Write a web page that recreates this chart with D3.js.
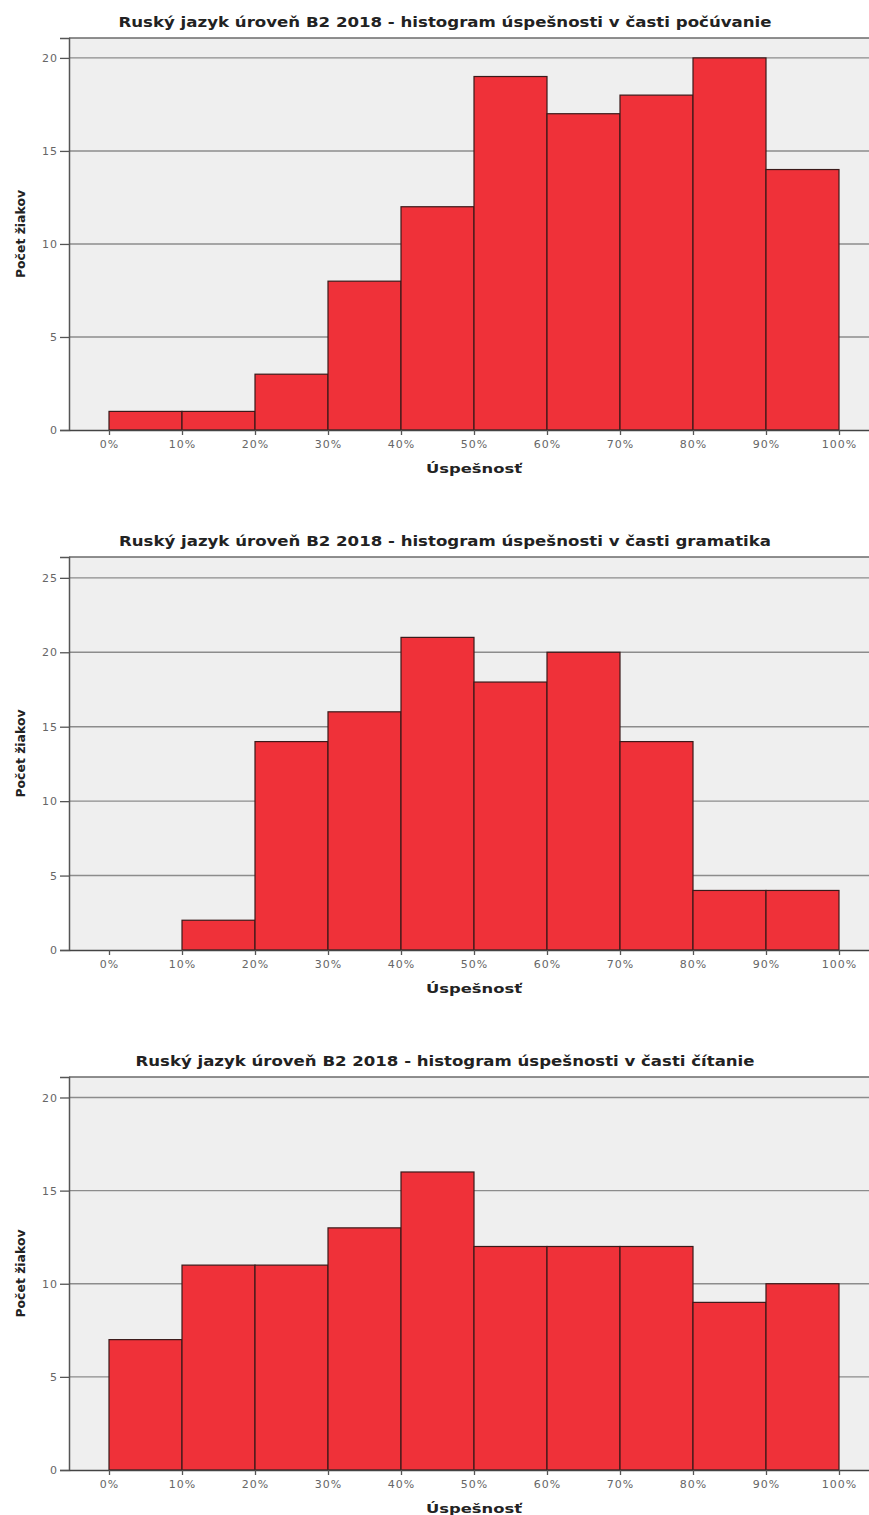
<!DOCTYPE html>
<html><head><meta charset="utf-8">
<script src="https://cdn.jsdelivr.net/npm/d3@7/dist/d3.min.js"></script>
<style>body{margin:0;background:#fff}svg{display:block}</style>
</head><body>
<svg id="c" width="869" height="1515"></svg>
<script>
// ---- data ----
const binStarts = [0, 10, 20, 30, 40, 50, 60, 70, 80, 90];
const binWidth = 10;
const xTickValues = [0, 10, 20, 30, 40, 50, 60, 70, 80, 90, 100];
const xTickLabels = ["0%", "10%", "20%", "30%", "40%", "50%", "60%", "70%", "80%", "90%", "100%"];
const countsPocuvanie = [1, 1, 3, 8, 12, 19, 17, 18, 20, 14];
const countsGramatika = [0, 2, 14, 16, 21, 18, 20, 14, 4, 4];
const countsCitanie = [7, 11, 11, 13, 16, 12, 12, 12, 9, 10];
const yTicksPocuvanie = [0, 5, 10, 15, 20];
const yTicksGramatika = [0, 5, 10, 15, 20, 25];
const yTicksCitanie = [0, 5, 10, 15, 20];
const yMaxes = [21.07, 26.4, 21.1];
const titles = [
  "Ruský jazyk úroveň B2 2018 - histogram úspešnosti v časti počúvanie",
  "Ruský jazyk úroveň B2 2018 - histogram úspešnosti v časti gramatika",
  "Ruský jazyk úroveň B2 2018 - histogram úspešnosti v časti čítanie"
];
const yLabel = "Počet žiakov";
const xLabel = "Úspešnosť";

// ---- layout ----
const panels = [
  {top: 38, bottom: 430, counts: countsPocuvanie, yTicks: yTicksPocuvanie, yMax: yMaxes[0], title: titles[0], titleW: 653},
  {top: 557, bottom: 950, counts: countsGramatika, yTicks: yTicksGramatika, yMax: yMaxes[1], title: titles[1], titleW: 652},
  {top: 1077, bottom: 1470, counts: countsCitanie, yTicks: yTicksCitanie, yMax: yMaxes[2], title: titles[2], titleW: 619}
];
const plotLeft = 69, plotRight = 869;
const x = d3.scaleLinear().domain([-5.48, 104.11]).range([plotLeft, plotRight]);

const svg = d3.select("#c");
const FONT = "'DejaVu Sans', 'Liberation Sans', Arial, sans-serif";

panels.forEach(p => {
  const y = d3.scaleLinear().domain([0, p.yMax]).range([p.bottom, p.top]);
  const g = svg.append("g");

  // background
  g.append("rect").attr("x", plotLeft).attr("y", p.top)
    .attr("width", plotRight - plotLeft + 5).attr("height", p.bottom - p.top)
    .attr("fill", "#efefef");

  // gridlines
  g.selectAll(".grid").data(p.yTicks.filter(t => t > 0)).enter().append("line")
    .attr("x1", plotLeft).attr("x2", plotRight)
    .attr("y1", d => y(d)).attr("y2", d => y(d))
    .attr("stroke", "#8c8c8c").attr("stroke-width", 1.4);

  // bars
  g.selectAll(".bar").data(binStarts.map((s, i) => ({s, c: p.counts[i]})).filter(d => d.c > 0))
    .enter().append("rect")
    .attr("x", d => x(d.s)).attr("width", d => x(d.s + binWidth) - x(d.s))
    .attr("y", d => y(d.c)).attr("height", d => y(0) - y(d.c))
    .attr("fill", "#ef3139").attr("stroke", "#3a1a1a").attr("stroke-width", 1.2);

  // frame: top
  g.append("line").attr("x1", plotLeft).attr("x2", plotRight + 5)
    .attr("y1", p.top).attr("y2", p.top).attr("stroke", "#6a6a6a").attr("stroke-width", 1.5);

  // y axis
  const yAxis = d3.axisLeft(y).tickValues(p.yTicks).tickSize(9).tickPadding(2).tickFormat(d3.format("d"));
  const ya = g.append("g").attr("transform", `translate(${plotLeft},0)`).call(yAxis);
  ya.select(".domain").attr("stroke", "#555").attr("stroke-width", 1.5);
  ya.selectAll(".tick line").attr("stroke", "#555").attr("stroke-width", 1.3);
  ya.selectAll(".tick text").attr("fill", "#666").attr("font-size", 11)
    .attr("font-family", FONT).attr("letter-spacing", 1);

  // x axis
  const xAxis = d3.axisBottom(x).tickValues(xTickValues).tickSize(5).tickPadding(5)
    .tickFormat((d, i) => xTickLabels[i]).tickSizeOuter(0);
  const xa = g.append("g").attr("transform", `translate(0,${p.bottom})`).call(xAxis);
  xa.select(".domain").attr("stroke", "#444").attr("stroke-width", 1.5);
  xa.selectAll(".tick line").attr("stroke", "#555").attr("stroke-width", 1.3);
  xa.selectAll(".tick text").attr("fill", "#666").attr("font-size", 11)
    .attr("font-family", FONT).attr("letter-spacing", 1);

  // title
  g.append("text").attr("x", 445).attr("y", p.top - 11)
    .attr("text-anchor", "middle").attr("font-family", FONT).attr("font-weight", "bold")
    .attr("font-size", 13.5).attr("fill", "#222")
    .attr("textLength", p.titleW).attr("lengthAdjust", "spacingAndGlyphs")
    .text(p.title);

  // x label
  g.append("text").attr("x", x(50)).attr("y", p.bottom + 43)
    .attr("text-anchor", "middle").attr("font-family", FONT).attr("font-weight", "bold")
    .attr("font-size", 12).attr("fill", "#222")
    .attr("textLength", 96).attr("lengthAdjust", "spacingAndGlyphs")
    .text(xLabel);

  // y label
  const cy = (p.top + p.bottom) / 2;
  g.append("text").attr("transform", `translate(25,${cy}) rotate(-90)`)
    .attr("text-anchor", "middle").attr("font-family", FONT).attr("font-weight", "bold")
    .attr("font-size", 12).attr("fill", "#222")
    .attr("textLength", 88).attr("lengthAdjust", "spacingAndGlyphs")
    .text(yLabel);
});
</script>
</body></html>
